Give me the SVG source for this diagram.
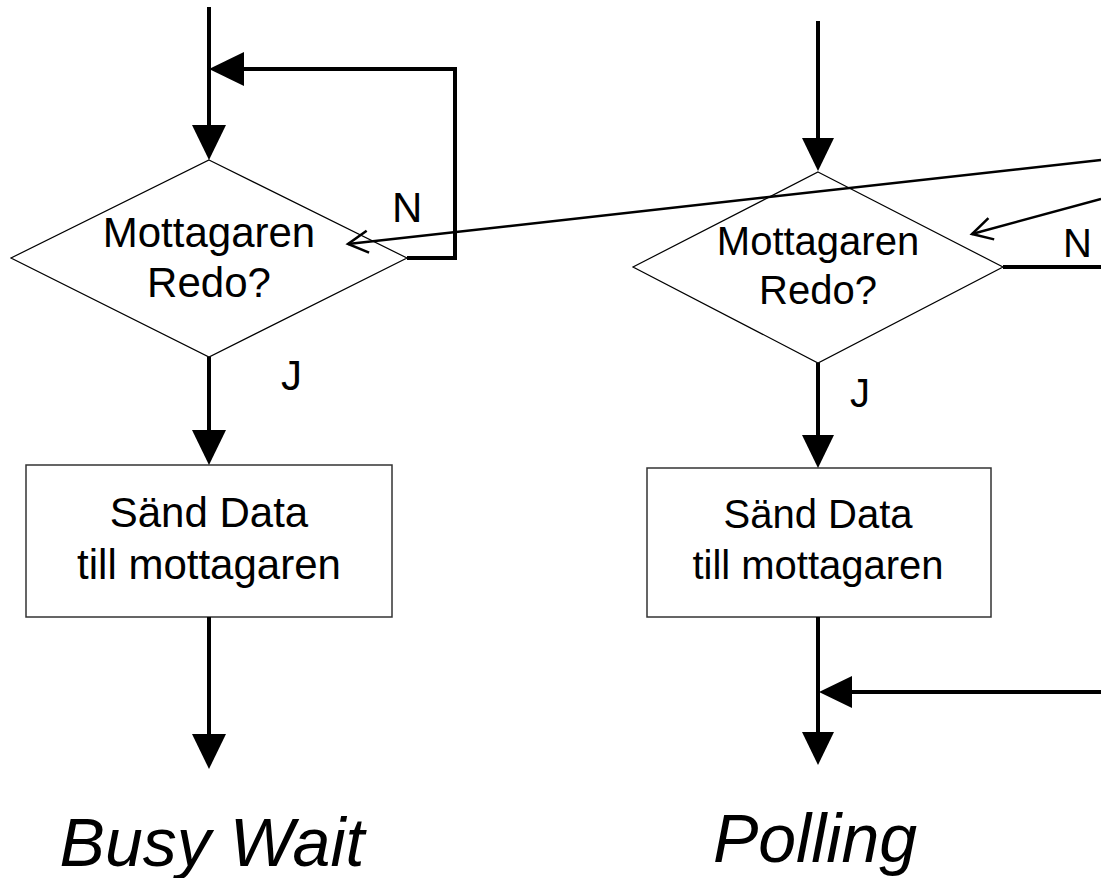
<svg xmlns="http://www.w3.org/2000/svg" width="1101" height="878" viewBox="0 0 1101 878">
<style>
text{font-family:"Liberation Sans",Arial,sans-serif;fill:#000}
.dia{fill:#fff;stroke:#000;stroke-width:1.2}
.box{fill:#fff;stroke:#333;stroke-width:1.5}
.c{fill:none;stroke:#000;stroke-width:4}
.thin{fill:none;stroke:#000;stroke-width:2.5}
.t42{font-size:42px}
.t40{font-size:40px}
.title{font-size:68px;font-style:italic}
</style>
<defs>
<marker id="solidL" markerUnits="userSpaceOnUse" markerWidth="40" markerHeight="40" refX="0" refY="0" viewBox="0 -20 40 40" orient="auto" overflow="visible">
<path d="M0,-17 L35,0 L0,17 Z" fill="#000"/>
</marker>
<marker id="solidR" markerUnits="userSpaceOnUse" markerWidth="40" markerHeight="40" refX="0" refY="0" viewBox="0 -20 40 40" orient="auto" overflow="visible">
<path d="M0,-16 L33,0 L0,16 Z" fill="#000"/>
</marker>
<marker id="open" markerUnits="userSpaceOnUse" markerWidth="30" markerHeight="30" refX="0" refY="0" viewBox="-25 -15 30 30" orient="auto" overflow="visible">
<path d="M-20,-11 L0,0 L-20,11" fill="none" stroke="#000" stroke-width="2.5"/>
</marker>
</defs>

<g id="decision-left">
<polygon class="dia" points="209,160 407,258 209,357 11,258"/>
<text class="t42" x="209" y="247" text-anchor="middle">Mottagaren</text>
<text class="t42" x="209" y="297" text-anchor="middle">Redo?</text>
</g>
<g id="process-left">
<rect class="box" x="26" y="465" width="366" height="152"/>
<text class="t42" x="209" y="527" text-anchor="middle">Sänd Data</text>
<text class="t42" x="209" y="579" text-anchor="middle">till mottagaren</text>
</g>
<g id="decision-right">
<polygon class="dia" points="818,172 1003,267 818,363 633,267"/>
<text class="t40" x="818" y="255" text-anchor="middle">Mottagaren</text>
<text class="t40" x="818" y="304" text-anchor="middle">Redo?</text>
</g>
<g id="process-right">
<rect class="box" x="647" y="468" width="344" height="149"/>
<text class="t40" x="818" y="528" text-anchor="middle">Sänd Data</text>
<text class="t40" x="818" y="579" text-anchor="middle">till mottagaren</text>
</g>
<g id="title-left"><text class="title" x="212" y="866" text-anchor="middle">Busy Wait</text></g>
<g id="title-right"><text class="title" x="815" y="862" text-anchor="middle">Polling</text></g>

<g id="connectors">
<line class="c" x1="209" y1="7" x2="209" y2="125" marker-end="url(#solidL)"/>
<path class="c" d="M407,258 H455 V69 H244" marker-end="url(#solidL)"/>
<line class="c" x1="209" y1="357" x2="209" y2="430" marker-end="url(#solidL)"/>
<line class="c" x1="209" y1="617" x2="209" y2="734" marker-end="url(#solidL)"/>

<line class="c" x1="818" y1="21" x2="818" y2="138" marker-end="url(#solidR)"/>
<line class="c" x1="818" y1="363" x2="818" y2="435" marker-end="url(#solidR)"/>
<line class="c" x1="818" y1="617" x2="818" y2="732" marker-end="url(#solidR)"/>
<line class="c" x1="1101" y1="692" x2="852" y2="692" marker-end="url(#solidR)"/>
<line class="c" x1="1003" y1="267" x2="1101" y2="267"/>

<line class="thin" x1="1101" y1="160" x2="348" y2="244" marker-end="url(#open)"/>
<line class="thin" x1="1101" y1="199" x2="972" y2="234" marker-end="url(#open)"/>
</g>

<g id="labels">
<text class="t42" x="392" y="222">N</text>
<text class="t42" x="281" y="390">J</text>
<text class="t40" x="1063" y="257">N</text>
<text class="t40" x="850" y="407">J</text>
</g>
</svg>
